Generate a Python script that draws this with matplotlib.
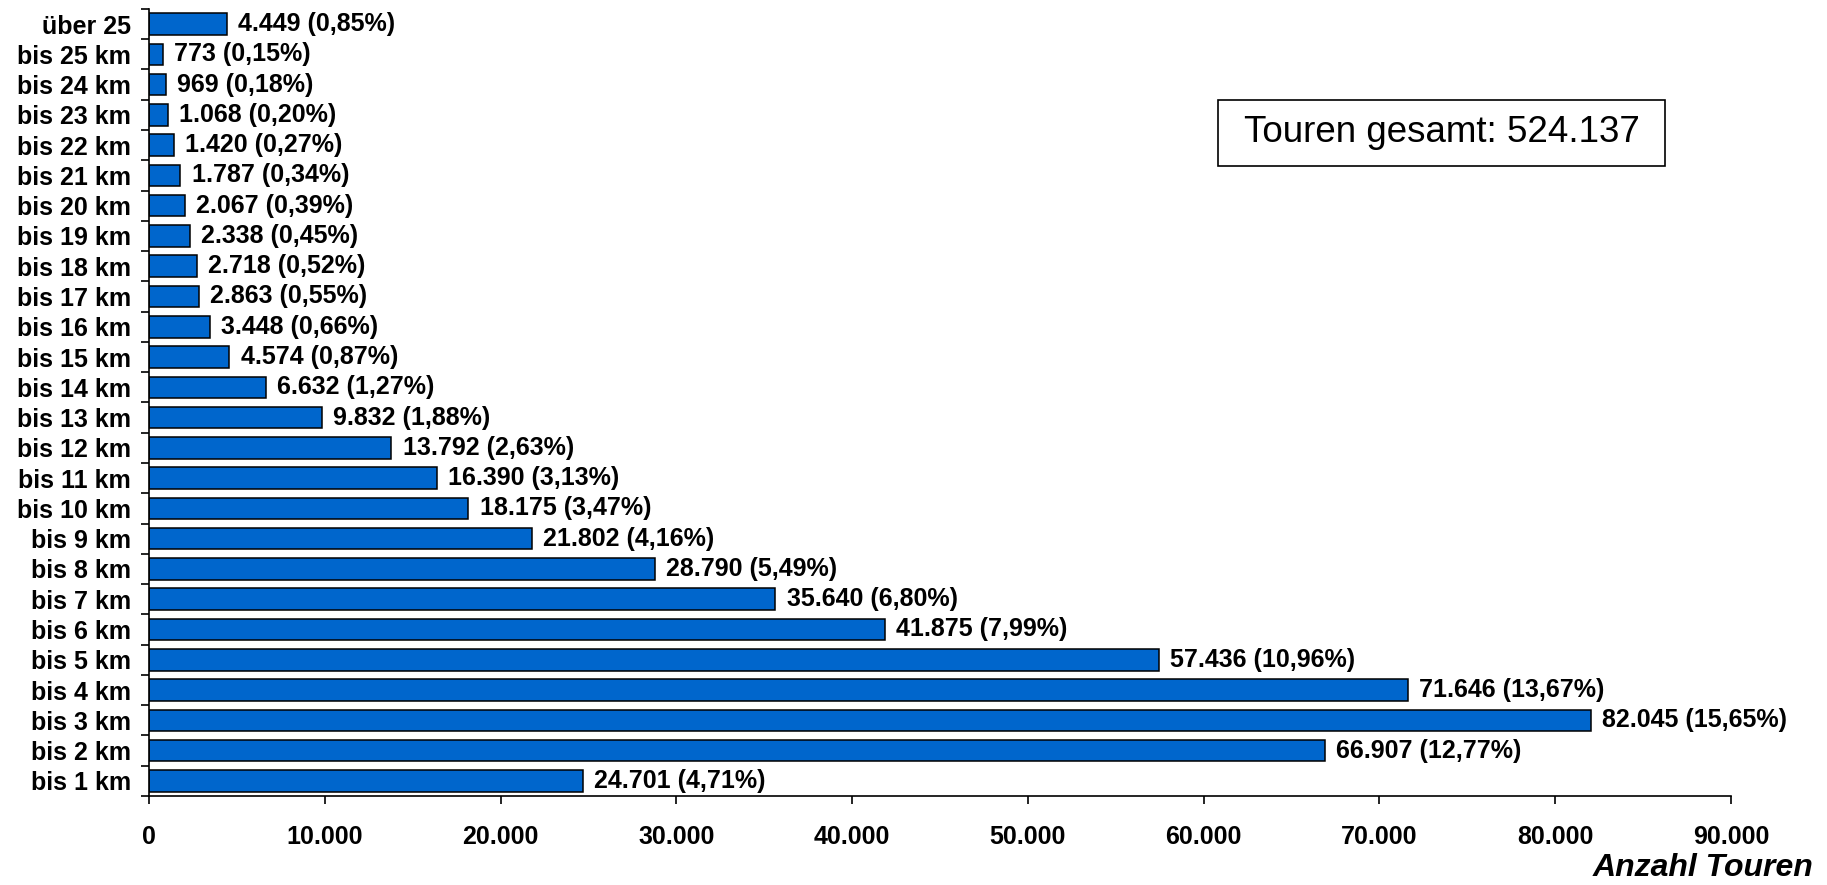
import matplotlib
matplotlib.use("Agg")
import matplotlib.pyplot as plt
from matplotlib.patches import Rectangle
from matplotlib.ticker import FixedLocator, FuncFormatter

categories = ["bis 1 km", "bis 2 km", "bis 3 km", "bis 4 km", "bis 5 km", "bis 6 km",
              "bis 7 km", "bis 8 km", "bis 9 km", "bis 10 km", "bis 11 km", "bis 12 km",
              "bis 13 km", "bis 14 km", "bis 15 km", "bis 16 km", "bis 17 km", "bis 18 km",
              "bis 19 km", "bis 20 km", "bis 21 km", "bis 22 km", "bis 23 km", "bis 24 km",
              "bis 25 km", "über 25"]
values = [24701, 66907, 82045, 71646, 57436, 41875, 35640, 28790, 21802, 18175, 16390,
          13792, 9832, 6632, 4574, 3448, 2863, 2718, 2338, 2067, 1787, 1420, 1068, 969,
          773, 4449]
percents = ["4,71", "12,77", "15,65", "13,67", "10,96", "7,99", "6,80", "5,49", "4,16",
            "3,47", "3,13", "2,63", "1,88", "1,27", "0,87", "0,66", "0,55", "0,52", "0,45",
            "0,39", "0,34", "0,27", "0,20", "0,18", "0,15", "0,85"]
total_text = "Touren gesamt: 524.137"
x_ticks = [0, 10000, 20000, 30000, 40000, 50000, 60000, 70000, 80000, 90000]
x_label = "Anzahl Touren"

FONT = ["Liberation Sans", "DejaVu Sans"]
plt.rcParams["font.family"] = FONT

def de_num(v):
    return f"{int(v):,}".replace(",", ".")

fig = plt.figure(figsize=(18.27, 8.85), dpi=100)
ax = fig.add_axes([149 / 1827, 1 - 796 / 885, (1731 - 149) / 1827, (796 - 8.9) / 885])

ypos = list(range(len(categories)))
ax.barh(ypos, values, height=0.71, color="#0066cc", edgecolor="black", linewidth=1.1)

for y, v, p in zip(ypos, values, percents):
    ax.annotate(f"{de_num(v)} ({p}%)", xy=(v, y), xytext=(8, 0), textcoords="offset points",
                ha="left", va="center", fontsize=18, fontweight="bold", color="black")

ax.set_xlim(0, 90000)
ax.set_ylim(-0.5, len(categories) - 0.5)

ax.set_xticks(x_ticks)
ax.xaxis.set_major_formatter(FuncFormatter(lambda v, pos: de_num(v)))
ax.tick_params(axis="x", direction="out", length=6, width=1.2, pad=15, labelsize=18)
for lab in ax.get_xticklabels():
    lab.set_fontweight("bold")

ax.set_yticks(ypos)
ax.set_yticklabels(categories, fontsize=18, fontweight="bold")
ax.tick_params(axis="y", which="major", length=0, pad=13)
ax.yaxis.set_minor_locator(FixedLocator([i - 0.5 for i in range(len(categories) + 1)]))
ax.tick_params(axis="y", which="minor", direction="out", length=6, width=1.2)

for s in ["top", "right"]:
    ax.spines[s].set_visible(False)
for s in ["left", "bottom"]:
    ax.spines[s].set_linewidth(1.2)

# total box
ax.add_patch(Rectangle((0.6757, 0.801), 0.9583 - 0.6757, 0.8847 - 0.801,
                       transform=ax.transAxes, facecolor="white", edgecolor="black",
                       linewidth=1.2, zorder=5))
ax.text((0.6757 + 0.9583) / 2, (0.801 + 0.8847) / 2, total_text, transform=ax.transAxes,
        ha="center", va="center", fontsize=26.5, zorder=6)

fig.text(1813 / 1827, 2 / 885, x_label, ha="right", va="bottom", fontsize=23,
         fontweight="bold", fontstyle="italic")

fig.savefig("out.png", dpi=100)
